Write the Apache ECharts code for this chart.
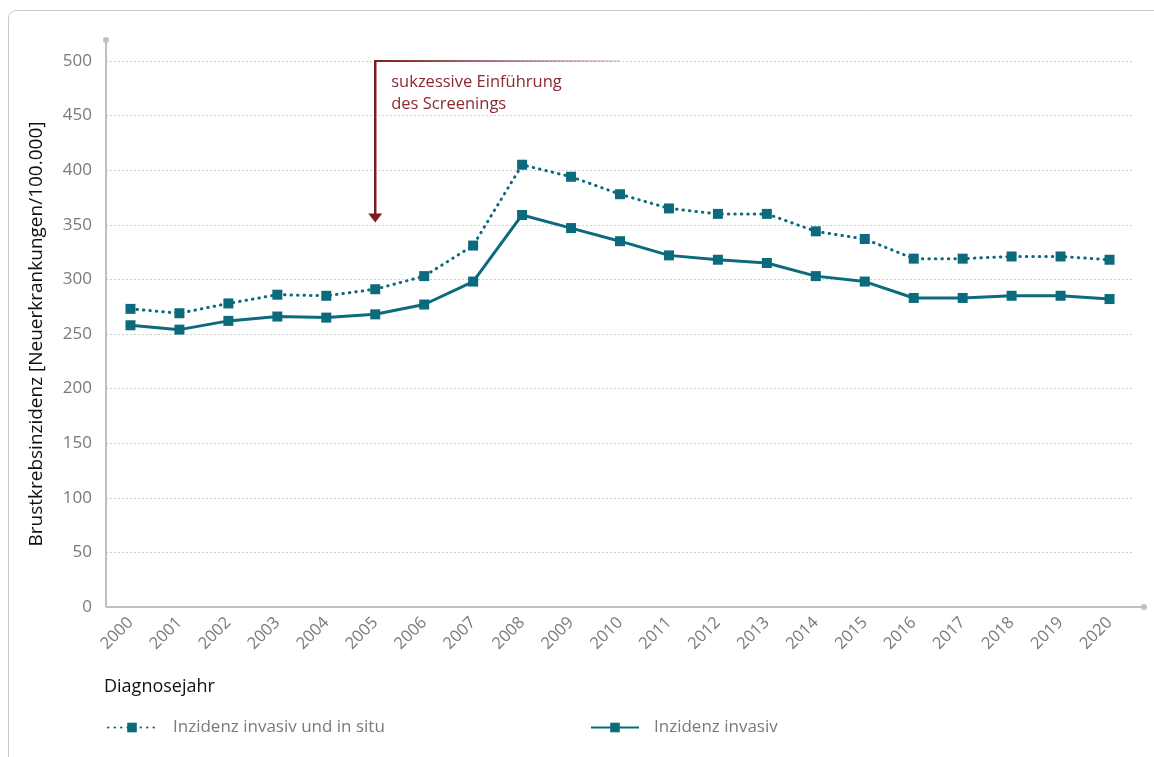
<!DOCTYPE html>
<html>
<head>
<meta charset="utf-8">
<script src="https://cdn.jsdelivr.net/npm/echarts@6/dist/echarts.min.js"></script>
<style>
html,body{margin:0;padding:0;background:#fff;}
#chart{width:1154px;height:757px;}
</style>
</head>
<body>
<div id="chart"></div>
<script>
const years = ['2000','2001','2002','2003','2004','2005','2006','2007','2008','2009','2010','2011','2012','2013','2014','2015','2016','2017','2018','2019','2020'];
const invasivInSitu = [273,269,278,286,285,291,303,331,405,394,378,365,360,360,344,337,319,319,321,321,318];
const invasiv = [258,254,262,266,265,268,277,298,359,347,335,322,318,315,303,298,283,283,285,285,282];
const yTicks = {min:0, max:500, interval:50};
const seriesNames = ['Inzidenz invasiv und in situ','Inzidenz invasiv'];
const annotationText = 'sukzessive Einführung\ndes Screenings';
const annotationYear = '2005', annotationEndYear = '2010';
const annotationTop = 500, annotationTip = 352;

const FONT = '"Open Sans", sans-serif';
const TEAL = '#0b6a7c';
const DARKRED = '#7b1c24';
const chart = echarts.init(document.getElementById('chart'));

chart.setOption({
  animation:false,
  textStyle:{fontFamily:FONT},
  grid:{left:106, right:20, top:61, bottom:150},
  xAxis:{
    type:'category', data:years, boundaryGap:true,
    axisLine:{show:false}, axisTick:{show:false},
    axisLabel:{rotate:45, color:'#7a7a7a', fontSize:16.5, fontFamily:FONT, margin:13, interval:0}
  },
  yAxis:{
    type:'value', min:yTicks.min, max:yTicks.max, interval:yTicks.interval,
    name:'Brustkrebsinzidenz [Neuerkrankungen/100.000]', nameLocation:'middle', nameGap:60,
    nameTextStyle:{color:'#111', fontSize:19, fontFamily:FONT},
    axisLine:{show:false}, axisTick:{show:false},
    axisLabel:{color:'#7a7a7a', fontSize:17, fontFamily:FONT, margin:14},
    splitLine:{lineStyle:{type:[2,2], color:'#cfcfcf', width:1}}
  },
  legend:[
    {data:[seriesNames[0]], left:102, top:714, itemWidth:48, itemHeight:12, itemGap:0,
     textStyle:{color:'#7a7a7a', fontSize:17, fontFamily:FONT, padding:[0,0,0,12]}},
    {data:[seriesNames[1]], left:585, top:714, itemWidth:48, itemHeight:12,
     textStyle:{color:'#7a7a7a', fontSize:17, fontFamily:FONT, padding:[0,0,0,10]}}
  ],
  series:[
    {name:seriesNames[0], type:'line', data:invasivInSitu, symbol:'rect', symbolSize:10,
     itemStyle:{color:TEAL}, lineStyle:{color:TEAL, width:3, type:[0.5,6], cap:'round'}, z:3},
    {name:seriesNames[1], type:'line', data:invasiv, symbol:'rect', symbolSize:10,
     itemStyle:{color:TEAL}, lineStyle:{color:TEAL, width:3}, z:4}
  ]
});

function px(cat, val){ return chart.convertToPixel({gridIndex:0}, [cat, val]); }
const o = px(years[0], 0);
const xLeft = 106, xRight = 1144;
const yTopPx = px(years[0], yTicks.max)[1] - 21;
const ax = px(annotationYear, annotationTop);
const axEnd = px(annotationEndYear, annotationTop);
const tip = px(annotationYear, annotationTip);

chart.setOption({
  graphic:[
    {type:'rect', shape:{x:8.5, y:10.5, width:1200, height:800, r:8}, style:{fill:'none', stroke:'#c8c8c8', lineWidth:1}, z:0, silent:true},
    {type:'line', shape:{x1:xLeft, y1:o[1], x2:xLeft, y2:yTopPx}, style:{stroke:'#c0c0c0', lineWidth:2}, z:1},
    {type:'circle', shape:{cx:xLeft, cy:yTopPx, r:3}, style:{fill:'#c0c0c0'}, z:1},
    {type:'line', shape:{x1:xLeft, y1:o[1], x2:xRight, y2:o[1]}, style:{stroke:'#c0c0c0', lineWidth:2}, z:1},
    {type:'circle', shape:{cx:xRight, cy:o[1], r:3}, style:{fill:'#c0c0c0'}, z:1},
    {type:'line', shape:{x1:ax[0], y1:ax[1], x2:axEnd[0], y2:ax[1]},
     style:{lineWidth:2, stroke:new echarts.graphic.LinearGradient(0,0,1,0,[{offset:0,color:DARKRED},{offset:1,color:'rgba(123,28,36,0.15)'}])}, z:5},
    {type:'line', shape:{x1:ax[0], y1:ax[1]-1, x2:ax[0], y2:tip[1]-8}, style:{stroke:DARKRED, lineWidth:2.5}, z:5},
    {type:'polygon', shape:{points:[[ax[0]-7,tip[1]-9],[ax[0]+7,tip[1]-9],[ax[0],tip[1]]]}, style:{fill:DARKRED}, z:5},
    {type:'text', x:ax[0]+16, y:ax[1]+10, style:{text:annotationText, fill:'#8a2a30', font:'16.5px '+FONT, lineHeight:22}, z:5},
    {type:'text', x:104, y:678, style:{text:'Diagnosejahr', fill:'#111', font:'18px '+FONT}, z:5}
  ]
});
</script>
</body>
</html>
